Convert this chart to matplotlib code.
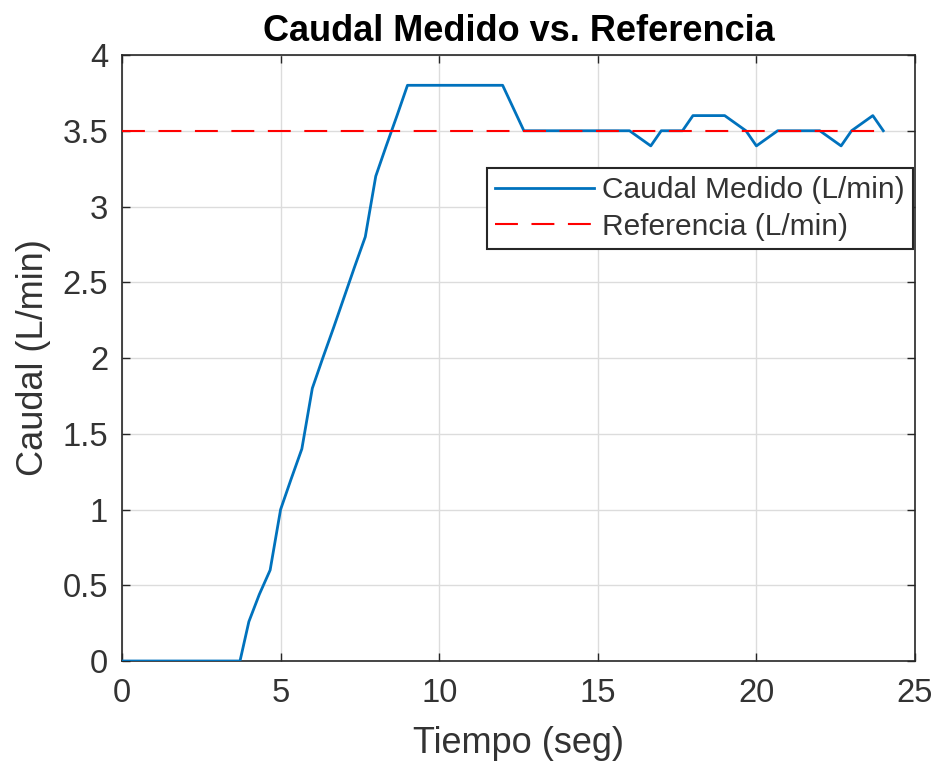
import matplotlib
matplotlib.use("Agg")
import matplotlib.pyplot as plt

plt.rcParams['font.family'] = ['Liberation Sans', 'DejaVu Sans']

# Data
tiempo = [0, 3.72, 4.0, 4.33, 4.67, 5.0, 5.33, 5.67, 6.0, 6.33, 6.67, 7.0, 7.33,
          7.67, 8.0, 8.33, 8.67, 9.0, 12.0, 12.67, 16.0, 16.67, 17.0, 17.67,
          18.0, 19.0, 19.67, 20.0, 20.67, 22.0, 22.67, 23.0, 23.67, 24.0]
caudal = [0, 0, 0.26, 0.44, 0.6, 1.0, 1.2, 1.4, 1.8, 2.0, 2.2, 2.4, 2.6,
          2.8, 3.2, 3.4, 3.6, 3.8, 3.8, 3.5, 3.5, 3.4, 3.5, 3.5,
          3.6, 3.6, 3.5, 3.4, 3.5, 3.5, 3.4, 3.5, 3.6, 3.5]
referencia = [3.5] * len(tiempo)

x_ticks = [0, 5, 10, 15, 20, 25]
y_ticks = [0, 0.5, 1, 1.5, 2, 2.5, 3, 3.5, 4]
y_tick_labels = ['0', '0.5', '1', '1.5', '2', '2.5', '3', '3.5', '4']

TXT = '#333333'

fig = plt.figure(figsize=(9.38, 7.65), dpi=100)
ax = fig.add_axes([122/938, 1 - 661/765, (915-122)/938, (661-55)/765])

ax.plot(tiempo, caudal, color='#0072BD', lw=2.0, label='Caudal Medido (L/min)', zorder=3)
ax.plot(tiempo, referencia, color='#FF0000', lw=1.5, dashes=(11, 6.5),
        label='Referencia (L/min)', zorder=4)

ax.set_xlim(0, 25)
ax.set_ylim(0, 4)
ax.set_xticks(x_ticks)
ax.set_yticks(y_ticks)
ax.set_yticklabels(y_tick_labels)

ax.grid(True, color='#dcdcdc', lw=1.0, zorder=0)
ax.set_axisbelow(True)

for s in ax.spines.values():
    s.set_color('#262626')
    s.set_linewidth(1.2)

ax.tick_params(direction='in', length=6, width=1.0, colors='#262626',
               labelcolor=TXT, top=True, right=True, labelsize=23.6)
ax.tick_params(axis='x', pad=12)
ax.tick_params(axis='y', pad=10)

ax.set_title('Caudal Medido vs. Referencia', fontsize=26, fontweight='bold',
             color='black', pad=10)
ax.set_xlabel('Tiempo (seg)', fontsize=26, color=TXT)
ax.set_ylabel('Caudal (L/min)', fontsize=26, color=TXT)
ax.xaxis.set_label_coords(0.5, -0.107)
ax.yaxis.set_label_coords(-0.089, 0.5)

leg = ax.legend(loc='upper right', bbox_to_anchor=(0.9975, 0.8135),
                fontsize=21.5, frameon=True, fancybox=False, framealpha=1,
                edgecolor='#262626', borderaxespad=0, borderpad=0.27,
                handlelength=3.3, handletextpad=0.28, labelspacing=0.29)
leg.get_frame().set_linewidth(1.5)
for t in leg.get_texts():
    t.set_color(TXT)

fig.savefig('out.png', dpi=100)
